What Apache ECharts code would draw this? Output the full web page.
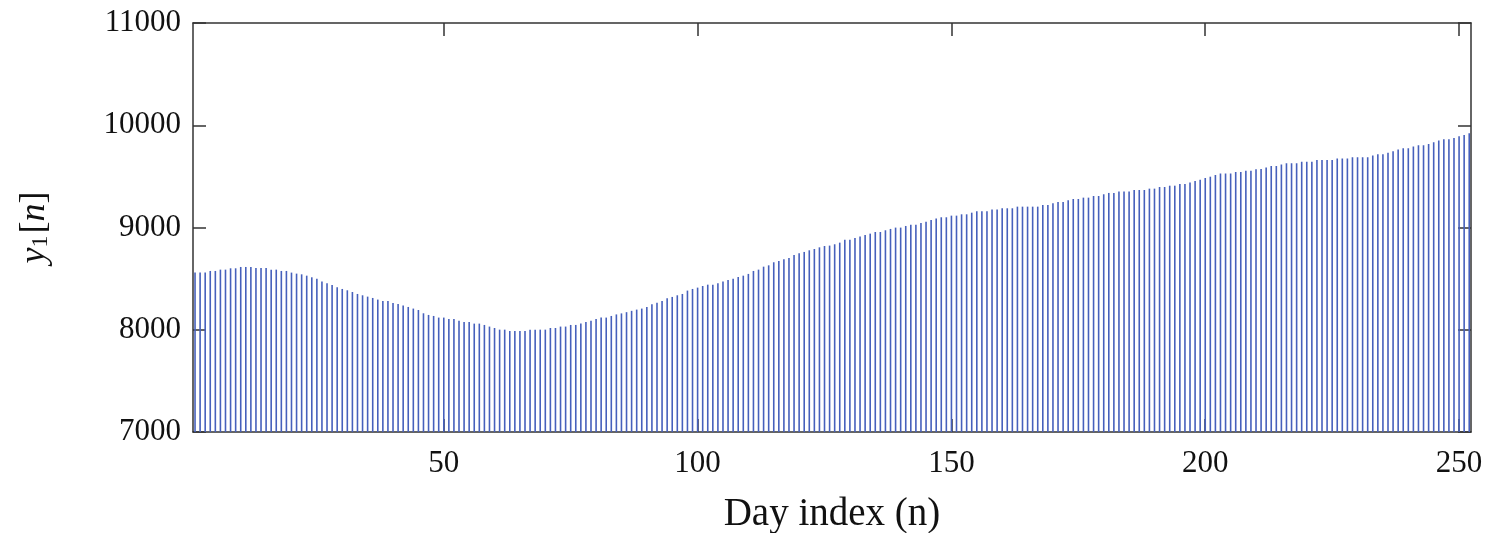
<!DOCTYPE html>
<html lang="en">
<head>
    <meta charset="UTF-8">
    <title>y1[n]</title>
    <script src="https://cdn.jsdelivr.net/npm/echarts@6/dist/echarts.min.js"></script>
    <style>html, body { margin: 0; background: #fff; }</style>
</head>
<body>
<div id="chart" style="width: 1486px; height: 533px"></div>
<script>
    // daily values y1[n], n = 1..252
    var y1 = [
        8559, 8559, 8559, 8575, 8575, 8588, 8588, 8601, 8601, 8614,
        8614, 8614, 8604, 8604, 8604, 8588, 8588, 8575, 8575, 8559,
        8549, 8542, 8529, 8513, 8500, 8471, 8454, 8438, 8415, 8399,
        8386, 8369, 8350, 8337, 8324, 8311, 8295, 8281, 8281, 8262,
        8252, 8236,
        8223, 8207, 8193, 8161, 8145, 8135, 8119, 8119, 8105, 8105,
        8089, 8076, 8076, 8060, 8060, 8047, 8031, 8017, 8001, 8001,
        7988, 7988, 7988, 7988, 8001, 8001, 8001, 8001, 8017, 8017,
        8031, 8031, 8047, 8047, 8060, 8076, 8089, 8105, 8119, 8119,
        8135,
        8150, 8160, 8172, 8185,
        8197, 8207, 8223, 8249, 8265, 8281, 8308, 8321, 8337, 8350,
        8383, 8399, 8412, 8428, 8441, 8441, 8454, 8471, 8487, 8500,
        8516, 8529, 8546, 8575, 8588, 8617, 8630, 8660, 8673, 8689,
        8702, 8731, 8748, 8761, 8777, 8790, 8806, 8819,
        8823, 8836, 8852, 8881, 8881, 8898, 8911, 8927, 8940, 8956,
        8956, 8973, 8986, 8999, 8999, 9015, 9028, 9028, 9044, 9057,
        9074, 9087, 9100, 9100, 9116, 9116, 9129, 9129, 9145, 9158,
        9158, 9158, 9175, 9175, 9188, 9188, 9188, 9204, 9204, 9204,
        9204, 9204,
        9220, 9220, 9237, 9250, 9250, 9266, 9279, 9279, 9292, 9292,
        9308, 9308, 9325, 9338, 9338, 9351, 9351, 9351, 9367, 9367,
        9367, 9380, 9380, 9396, 9396, 9409, 9409, 9426, 9426, 9439,
        9455, 9468, 9484, 9497, 9514, 9527, 9527, 9527, 9543, 9543,
        9556, 9556, 9569,
        9572, 9586, 9602, 9602, 9615, 9628, 9628, 9628, 9644, 9644,
        9644, 9660, 9660, 9660, 9660, 9674, 9674, 9674, 9687, 9687,
        9687, 9687, 9703, 9716, 9716, 9732, 9745, 9762, 9775, 9775,
        9791, 9804, 9804, 9817, 9833, 9850, 9863, 9863, 9876, 9892,
        9905, 9921
    ];
    var xTicks = [50, 100, 150, 200, 250];
    var yTicks = [7000, 8000, 9000, 10000, 11000];

    var serif = '"Liberation Serif", "Times New Roman", serif';
    var frame = { show: true, onZero: false, lineStyle: { color: '#333', width: 1.5 } };
    var tick = { show: true, inside: true, length: 13, lineStyle: { color: '#333', width: 1.5 } };
    var plain = function (v) { return String(v); };

    var myChart = echarts.init(document.getElementById('chart'));
    var option = {
        animation: false,
        backgroundColor: '#fff',
        grid: { left: 193, right: 15, top: 23, bottom: 101, outerBoundsMode: 'none', containLabel: false },
        xAxis: [{
            type: 'value',
            min: 0.6,
            max: 252.35,
            position: 'bottom',
            axisLine: frame,
            axisTick: Object.assign({ customValues: xTicks }, tick),
            axisLabel: {
                customValues: xTicks,
                formatter: plain,
                margin: 16,
                color: '#111',
                fontFamily: serif,
                fontSize: 31
            },
            splitLine: { show: false },
            name: 'Day index (n)',
            nameLocation: 'middle',
            nameGap: 63,
            nameTextStyle: { color: '#111', fontFamily: serif, fontSize: 39 }
        }, {
            type: 'value',
            min: 0.6,
            max: 252.35,
            position: 'top',
            axisLine: frame,
            axisTick: Object.assign({ customValues: xTicks }, tick),
            axisLabel: { show: false },
            splitLine: { show: false }
        }],
        yAxis: [{
            type: 'value',
            min: 7000,
            max: 11000,
            position: 'left',
            axisLine: frame,
            axisTick: Object.assign({ customValues: yTicks }, tick),
            axisLabel: {
                customValues: yTicks,
                formatter: plain,
                margin: 12,
                color: '#111',
                fontFamily: serif,
                fontSize: 31
            },
            splitLine: { show: false },
            name: '{i|y}{s|1}{r|[}{i|n}{r|]}',
            nameLocation: 'middle',
            nameRotate: 90,
            nameGap: 140,
            nameTextStyle: {
                color: '#111',
                fontFamily: serif,
                rich: {
                    i: { fontFamily: serif, fontStyle: 'italic', fontSize: 36, color: '#111' },
                    r: { fontFamily: serif, fontSize: 36, color: '#111' },
                    s: { fontFamily: serif, fontSize: 24, color: '#111', verticalAlign: 'bottom', padding: [12, 2, 0, 0] }
                }
            }
        }, {
            type: 'value',
            min: 7000,
            max: 11000,
            position: 'right',
            axisLine: frame,
            axisTick: Object.assign({ customValues: yTicks }, tick),
            axisLabel: { show: false },
            splitLine: { show: false }
        }],
        series: [{
            type: 'bar',
            xAxisIndex: 0,
            yAxisIndex: 0,
            barWidth: 1.6,
            itemStyle: { color: '#4660bc' },
            data: y1.map(function (v, i) { return [i + 1, v]; })
        }]
    };
    myChart.setOption(option);
</script>
</body>
</html>
